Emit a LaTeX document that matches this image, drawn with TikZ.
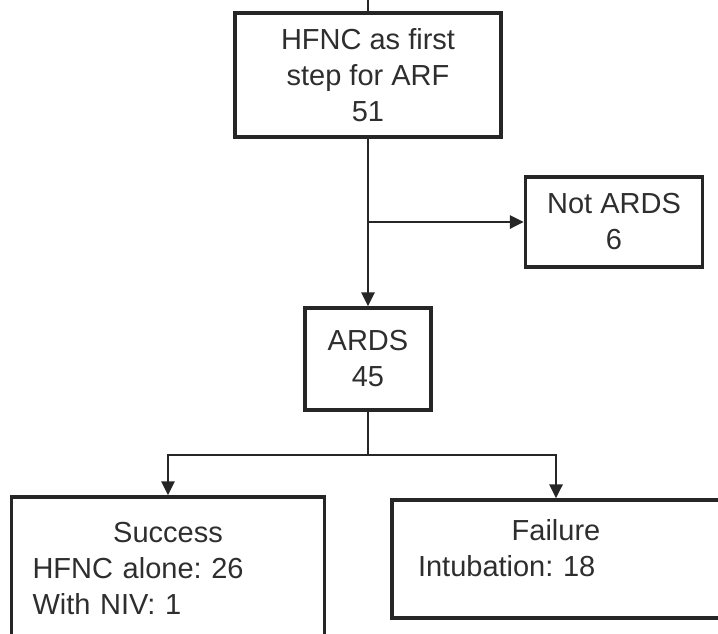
\documentclass[tikz,border=0pt]{standalone}
\usepackage{fontspec}
\setmainfont{Liberation Sans}
\usepackage{tikz}
\usetikzlibrary{arrows.meta,positioning}
\frenchspacing

\begin{document}
\begin{tikzpicture}[x=1pt, y=-1pt, font=\fontsize{29}{36}\selectfont,
    box/.style={draw=black!85, line width=3.2pt, text=black!82, align=center, inner sep=0pt},
    arr/.style={-{Triangle[length=14pt,width=13pt]}, line width=2.8pt, draw=black!85},
    link/.style={line width=2.8pt, draw=black!85}]
        \useasboundingbox (0,0) rectangle (718,633);
        % boxes
        \node[box, minimum width=266pt, minimum height=124pt] (hfnc) at (368,75)
          {HFNC as first\\step for ARF\\51};
        \node[box, minimum width=177pt, minimum height=90pt] (notards) at (614,222)
          {Not ARDS\\6};
        \node[box, minimum width=126pt, minimum height=102pt] (ards) at (368,359)
          {ARDS\\45};
        \node[box, align=left, text width=271pt, minimum width=313pt, minimum height=142pt] (success) at (168,568)
          {\makebox[\linewidth][c]{Success}\\HFNC alone: 26\\With NIV: 1};
        \node[box, align=left, text width=276pt, minimum width=328pt, minimum height=118pt] (failure) at (556,559)
          {\makebox[\linewidth][c]{Failure}\\Intubation: 18\rule[-22pt]{0pt}{22pt}};
        % connectors
        \coordinate (topend) at (368,-5);
        \coordinate (split) at (368,222);
        \coordinate (fork) at (368,455);
        \draw[link] (topend) -- (hfnc.north);
        \draw[arr] (hfnc.south) -- (ards.north);
        \draw[arr] (split) -- (notards.west);
        \draw[link] (ards.south) -- (fork);
        \draw[arr] (fork) -| (success.north);
        \draw[arr] (fork) -| (failure.north);
      \end{tikzpicture}
\end{document}
